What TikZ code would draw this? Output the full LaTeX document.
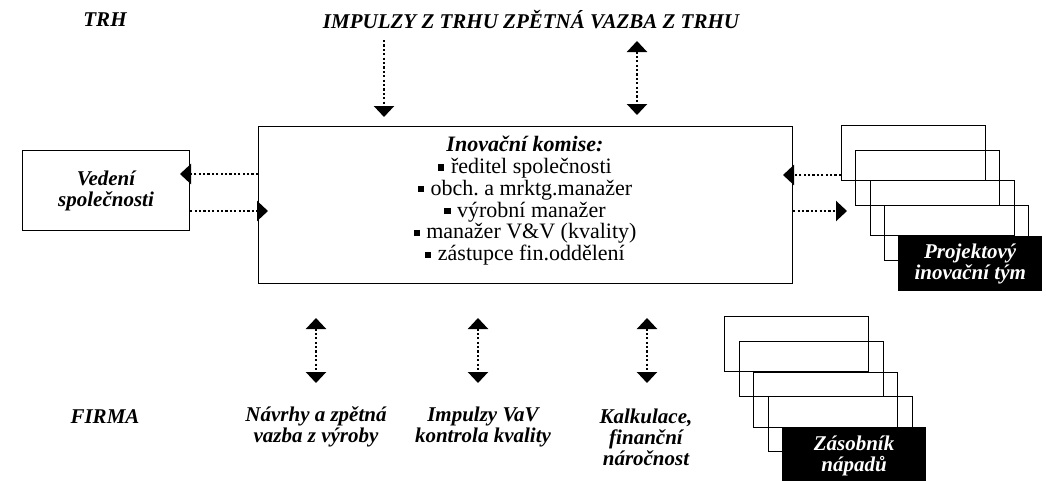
\documentclass[tikz,border=0pt]{standalone}
\usepackage{fontspec}
\setmainfont{Liberation Serif}
\usetikzlibrary{arrows.meta}
\frenchspacing

\newcommand{\bul}{\rule[0.13em]{0.28em}{0.28em}\hspace{0.3em}}

\begin{document}
\begin{tikzpicture}[x=1pt,y=-1pt,
  lbl/.style={font=\fontsize{21}{21}\selectfont\bfseries\itshape, align=center, inner sep=0pt},
  frame/.style={draw, line width=1.1pt, inner sep=0pt, anchor=north west},
  card/.style={draw, line width=1pt, inner sep=0pt, anchor=north west,
               minimum width=144pt, minimum height=55pt},
  blackcard/.style={fill=black, text=white, inner sep=0pt, anchor=north west,
               minimum width=144pt, minimum height=55pt},
  flow/.style={line width=2.2pt, dash pattern=on 2.2pt off 2.2pt,
               -{Triangle[length=11pt,width=20pt]}},
  flow2/.style={line width=2.2pt, dash pattern=on 2.2pt off 2.2pt,
               {Triangle[length=11pt,width=20pt]}-{Triangle[length=11pt,width=20pt]}}
]
\useasboundingbox (0,0) rectangle (1046,480);

% headings
\node[lbl] (trh) at (105,20) {TRH};
\node[lbl] (impulzy) at (531,20) {IMPULZY Z TRHU ZPĚTNÁ VAZBA Z TRHU};
\node[lbl] (firma) at (105,417) {FIRMA};

% innovation committee
\node[frame, minimum width=534pt, minimum height=157pt] (komise) at (258,126) {};
\node[align=center, inner sep=0pt, font=\fontsize{22}{21.8}\selectfont, anchor=north]
  (clenove) at (525,136) {%
  {\bfseries\itshape Inovační komise:}\\
  \bul ředitel společnosti\\
  \bul obch. a mrktg.manažer\\
  \bul výrobní manažer\\
  \bul manažer V\&V (kvality)\\
  \bul zástupce fin.oddělení};

% company management
\node[frame, minimum width=167pt, minimum height=80pt] (vedeni) at (22,150) {};
\node[lbl] (vedenitext) at (vedeni.center) {Vedení\\společnosti};

% project team stack
\node[card] (p1) at (841,125) {};
\node[card] (p2) at (855,150) {};
\node[card] (p3) at (870,180) {};
\node[card] (p4) at (884,205) {};
\node[blackcard, lbl] (p5) at (898,236) {Projektový\\inovační tým};

% idea pool stack
\node[card] (z1) at (724,316) {};
\node[card] (z2) at (739,341) {};
\node[card] (z3) at (753,372) {};
\node[card] (z4) at (768,396) {};
\node[fill=black, inner sep=0pt, anchor=north west,
      minimum width=144pt, minimum height=60pt] (z5) at (782,427) {};
\node[lbl, text=white] (z5text) at (854,456) {Zásobník\\nápadů};

% bottom labels
\node[lbl] (navrhy) at (316,427) {Návrhy a zpětná\\vazba z výroby};
\node[lbl] (vav) at (483,427) {Impulzy VaV\\kontrola kvality};
\node[lbl] (kalk) at (646,437) {Kalkulace,\\finanční\\náročnost};

% connector end points
\coordinate (t1a) at (384,40);  \coordinate (t1b) at (384,117);
\coordinate (t2a) at (637,41);  \coordinate (t2b) at (637,115);
\coordinate (b1a) at (316,318); \coordinate (b1b) at (316,383);
\coordinate (b2a) at (478,318); \coordinate (b2b) at (478,383);
\coordinate (b3a) at (647,318); \coordinate (b3b) at (647,383);
\coordinate (vl) at (180,174);  \coordinate (vr) at (268,211);
\coordinate (pl) at (783,175);  \coordinate (pr) at (847,211);

% market links
\draw[flow] (t1a) -- (t1b);
\draw[flow2] (t2a) -- (t2b);

% management links
\draw[flow] (komise.west |- vl) -- (vl);
\draw[flow] (vedeni.east |- vr) -- (vr);

% project team links
\draw[flow] (p1.west |- pl) -- (pl);
\draw[flow] (komise.east |- pr) -- (pr);

% company links
\draw[flow2] (b1a) -- (b1b);
\draw[flow2] (b2a) -- (b2b);
\draw[flow2] (b3a) -- (b3b);
\end{tikzpicture}
\end{document}
